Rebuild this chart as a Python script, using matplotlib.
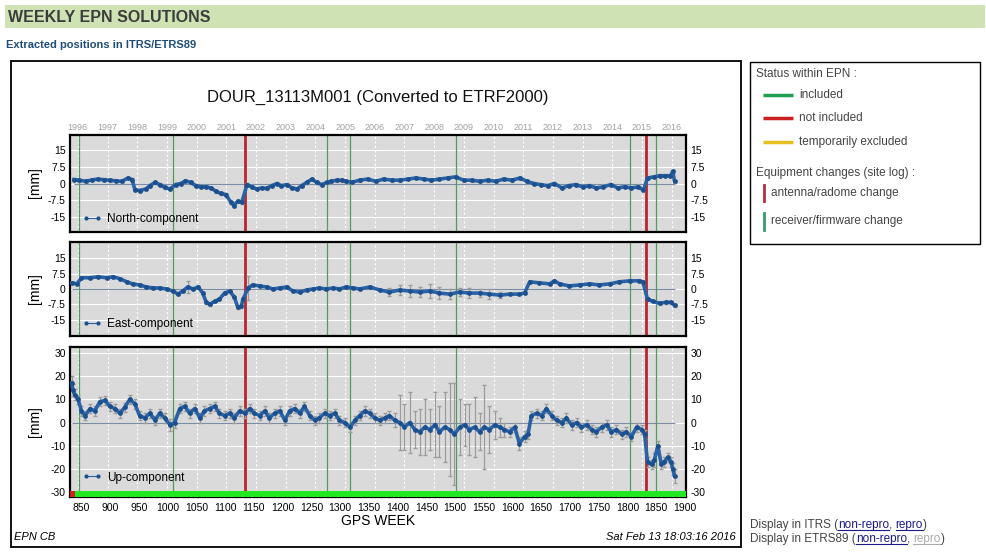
import numpy as np
import matplotlib
matplotlib.use('Agg')
import matplotlib.pyplot as plt
from matplotlib.lines import Line2D
from matplotlib.patches import Rectangle

plt.rcParams['font.family'] = ['Liberation Sans', 'DejaVu Sans']

# --- data (GPS week, mm) ---
north_week = [837, 846, 857, 868, 878, 889, 899, 910, 920, 931,
              938, 943, 951, 962, 969, 978, 986, 995, 1004, 1014,
              1023, 1031, 1040, 1049, 1058, 1066, 1075, 1084, 1092, 1101,
              1110, 1115, 1122, 1129, 1138, 1146, 1155, 1164, 1172, 1181,
              1190, 1198, 1207, 1216, 1225, 1233, 1242, 1251, 1259, 1268,
              1277, 1285, 1294, 1303, 1311, 1320, 1334, 1348, 1362, 1376,
              1390, 1404, 1418, 1432, 1446, 1459, 1473, 1487, 1501, 1515,
              1529, 1543, 1557, 1571, 1585, 1599, 1613, 1625, 1637, 1649,
              1661, 1673, 1686, 1698, 1710, 1722, 1734, 1746, 1758, 1771,
              1783, 1795, 1807, 1819, 1828, 1835, 1846, 1856, 1866, 1875,
              1879, 1882]
north_mm = [1.8, 1.5, 1.0, 1.6, 2.0, 1.7, 1.5, 1.2, 1.0, 2.5,
            1.8, -2.8, -3.2, -2.5, -1.0, 0.5, -0.5, -1.8, -2.5, -0.5,
            0.0, 1.2, 0.5, -1.0, -1.5, -1.5, -2.0, -3.5, -4.5, -5.0,
            -8.5, -10.0, -8.0, -8.5, -0.5, -1.5, -2.5, -2.0, -2.2, -1.0,
            0.0, -1.0, -0.5, -2.0, -2.5, -1.0, 0.5, 2.0, 0.5, -0.5,
            0.5, 1.0, 1.5, 1.5, 1.0, 0.5, 1.5, 2.0, 1.0, 2.0,
            1.5, 1.5, 2.0, 2.5, 2.0, 1.5, 2.0, 2.5, 3.0, 1.5,
            1.5, 1.0, 1.5, 1.0, 2.0, 1.5, 2.5, 1.0, 0.0, -0.5,
            -1.0, 0.0, -2.0, -1.0, -0.5, -1.5, -1.0, -2.0, -1.5, -0.5,
            -2.0, -1.5, -2.0, -1.5, -3.0, 2.5, 3.0, 3.5, 3.5, 3.5,
            5.5, 1.0]

east_week = [833, 842, 850, 865, 879, 894, 905, 917, 929, 939,
             951, 963, 975, 986, 998, 1009, 1018, 1026, 1035, 1044,
             1053, 1061, 1067, 1073, 1082, 1090, 1099, 1108, 1116, 1122,
             1128, 1131, 1140, 1148, 1160, 1172, 1183, 1195, 1207, 1218,
             1230, 1242, 1253, 1264, 1276, 1288, 1299, 1311, 1322, 1334,
             1352, 1369, 1386, 1404, 1421, 1439, 1456, 1473, 1491, 1508,
             1525, 1543, 1560, 1578, 1595, 1612, 1621, 1630, 1647, 1665,
             1673, 1682, 1699, 1717, 1734, 1751, 1769, 1786, 1804, 1821,
             1827, 1835, 1844, 1856, 1867, 1876, 1882]
east_mm = [3.0, 2.5, 5.5, 5.5, 6.0, 5.5, 6.0, 5.0, 3.5, 2.5,
           2.0, 1.0, 0.5, 0.5, 0.0, -1.0, -2.5, -1.0, 1.0, 0.0,
           1.0, -2.0, -6.5, -7.5, -6.0, -5.0, -2.0, -1.0, -4.0, -9.0,
           -8.5, -5.0, 0.5, 2.0, 1.5, 1.0, 0.0, 0.5, 1.0, -1.0,
           -1.5, -0.5, 0.0, 0.5, 0.0, 0.5, 0.0, 1.0, 0.5, 0.0,
           1.0, -0.5, -1.5, -0.5, -1.0, -1.5, -1.0, -2.0, -2.5, -1.5,
           -2.0, -2.0, -2.5, -3.0, -2.5, -2.5, -2.0, 3.5, 3.0, 2.5,
           4.0, 2.5, 1.5, 2.0, 2.5, 2.0, 2.5, 3.5, 4.0, 4.0,
           3.5, -5.0, -6.0, -7.0, -6.5, -6.5, -8.0]
east_err = [0.6, 0.6, 0.6, 0.6, 0.6, 0.6, 0.6, 0.6, 0.6, 0.6,
            0.6, 0.6, 0.6, 0.6, 0.6, 0.6, 0.6, 0.6, 3.0, 0.6,
            0.6, 0.6, 0.6, 0.6, 0.6, 0.6, 0.6, 0.6, 0.6, 0.6,
            0.6, 0.6, 6.0, 0.6, 0.6, 0.6, 0.6, 0.6, 0.6, 0.6,
            0.6, 0.6, 0.6, 0.6, 0.6, 0.6, 0.6, 0.6, 0.6, 0.6,
            0.6, 0.6, 2.0, 2.5, 3.0, 2.5, 3.5, 3.0, 2.5, 2.0,
            2.5, 2.0, 2.5, 1.5, 0.6, 0.6, 0.6, 0.6, 0.6, 0.6,
            0.6, 0.6, 0.6, 0.6, 0.6, 0.6, 0.6, 0.6, 0.6, 0.6,
            0.6, 0.6, 0.6, 0.6, 0.6, 0.6, 0.6]

up_week = [833, 835, 838, 844, 850, 856, 865, 873, 882, 891,
           899, 908, 917, 925, 934, 943, 951, 960, 969, 978,
           986, 995, 1004, 1012, 1021, 1030, 1038, 1047, 1056, 1064,
           1073, 1082, 1090, 1099, 1108, 1116, 1125, 1134, 1143, 1151,
           1160, 1169, 1177, 1186, 1195, 1204, 1212, 1221, 1230, 1238,
           1247, 1256, 1264, 1273, 1282, 1291, 1299, 1308, 1317, 1326,
           1334, 1343, 1352, 1360, 1369, 1378, 1386, 1395, 1404, 1412,
           1421, 1430, 1439, 1447, 1456, 1465, 1473, 1482, 1491, 1499,
           1508, 1517, 1525, 1534, 1543, 1551, 1560, 1569, 1578, 1586,
           1595, 1604, 1612, 1621, 1627, 1633, 1642, 1651, 1659, 1668,
           1677, 1686, 1694, 1703, 1712, 1720, 1729, 1738, 1746, 1755,
           1764, 1772, 1781, 1790, 1798, 1807, 1816, 1825, 1830, 1835,
           1842, 1847, 1853, 1859, 1864, 1870, 1876, 1879, 1882]
up_mm = [17, 14, 12, 10, 5, 3, 6, 5, 9, 9.5,
         7, 6, 4, 6.5, 10, 8, 3, 2, 4, 1,
         4, 2, -1, 0, 6, 7, 4, 6, 2, 5,
         6, 7, 4, 3, 4, 2, 5, 4, 6, 4,
         3, 5, 2, 4, 5, 1, 5, 6, 4, 7,
         3, 1, 2, 4, 3, 4, 1, 0, -2, 1,
         3, 5, 4, 2, 1, 2, 3, 1, 0, -2,
         0, -3, -4, -2, -3, -1, -4, -2, -3, -5,
         -2, -1, -3, -2, -4, -2, -3, -1, -2, -3,
         -4, -2, -9, -6, -5, 3, 4, 3, 6, 3,
         1, 0, 2, -1, 0, -2, -1, -3, -4, -2,
         -1, -4, -3, -5, -4, -6, -2, -3, -5, -17,
         -18, -16, -10, -18, -17, -15, -17, -20, -23]
up_err = [3, 2.5, 2.5, 2, 2, 2, 2, 2, 2, 2,
          2, 2, 2, 2, 2, 2, 2, 2, 2, 2,
          2, 2, 2.5, 2.5, 2, 2, 2, 2, 2, 2,
          2, 2, 2, 2, 2, 2, 2, 2, 2, 2,
          2, 2, 2, 2, 2, 2, 2, 2, 2, 2,
          2, 2, 2, 2, 2, 2, 2, 2, 2, 2,
          2, 2, 2, 2, 2, 2, 2, 3, 12, 10,
          13, 8, 10, 12, 9, 14, 11, 15, 20, 22,
          12, 9, 11, 13, 8, 18, 10, 6, 4, 3,
          2, 2, 3, 2.5, 2, 2, 2, 2, 2, 2,
          2, 2, 2, 2, 2, 2, 2, 2, 2, 2,
          2, 2, 2, 2, 2, 2, 2, 2, 2, 2,
          2, 3, 2, 2, 2, 2, 2, 2.5, 3]

antenna_weeks = [1134, 1832]
receiver_weeks = [845, 1009, 1277, 1317, 1501, 1804, 1849]
status_spans = [(830, 838, '#d02020'), (838, 1902, '#22e822')]

years = list(range(1996, 2017))
year_weeks = np.linspace(843.6, 1877.2, len(years))

nev_ticks = [15, 7.5, 0, -7.5, -15]
nev_labels = ['15', '7.5', '0', '-7.5', '-15']
up_ticks = [30, 20, 10, 0, -10, -20, -30]
up_labels = ['30', '20', '10', '0', '-10', '-20', '-30']
week_ticks = list(range(850, 1901, 50))

W, H = 987, 552
fig = plt.figure(figsize=(W / 100, H / 100), dpi=100)

# overlay in pixel coordinates for page-level stuff
ov = fig.add_axes([0, 0, 1, 1])
ov.set_xlim(0, W)
ov.set_ylim(H, 0)
ov.axis('off')
ov.set_zorder(-1)


def box(x0, y0, x1, y1):
    return [x0 / W, 1 - y1 / H, (x1 - x0) / W, (y1 - y0) / H]


BLUE = '#2a63a5'
DOT = '#1b4f8e'


def panel(ax, weeks, vals, err, ylim, ticks, labels, name, ly):
    ax.set_facecolor('#dadada')
    ax.set_xlim(830, 1902)
    ax.set_ylim(*ylim)
    for w in year_weeks:
        ax.axvline(w, color='white', lw=0.8, ls=(0, (2, 2)), zorder=0.5)
    for t in ticks:
        ax.axhline(t, color='white', lw=0.8, zorder=0.5)
    ax.hlines(0, weeks[0], weeks[-1], color='#7c8ea6', lw=0.8, zorder=1)
    for w in receiver_weeks:
        ax.axvline(w, color='#4f9c5c', lw=0.9, zorder=1.5)
    for w in antenna_weeks:
        ax.axvline(w, color='#b8272d', lw=2, zorder=1.5)
    ax.errorbar(weeks, vals, yerr=err, fmt='none', ecolor='#9c9c9c',
                elinewidth=0.9, capsize=1.5, zorder=2)
    ax.plot(weeks, vals, color=BLUE, lw=2.6, marker='o', ms=2.4,
            mfc=DOT, mec=DOT, zorder=3)
    ax.set_yticks(ticks)
    ax.set_yticklabels(labels)
    ax.tick_params(axis='y', length=0, labelsize=7.5, labelright=True, pad=3)
    ax.tick_params(axis='x', length=0)
    ax.set_xticks(week_ticks)
    ax.set_xticklabels([])
    for s in ax.spines.values():
        s.set_linewidth(1.6)
    h = Line2D([], [], color=BLUE, lw=0.8, marker='o', ms=2, mfc=DOT, mec=DOT)
    ax.legend([h], [name], loc='center left', bbox_to_anchor=(0.02, ly),
              frameon=False, numpoints=2, handlelength=1.6, fontsize=8.5,
              borderpad=0, borderaxespad=0, handletextpad=0.5)


ax1 = fig.add_axes(box(70, 135, 686, 232))
ax2 = fig.add_axes(box(70, 242, 686, 336))
ax3 = fig.add_axes(box(70, 347, 686, 497))

panel(ax1, north_week, north_mm, 0.6, (-22, 22), nev_ticks, nev_labels, 'North-component', 0.13)
panel(ax2, east_week, east_mm, east_err, (-23, 23), nev_ticks, nev_labels, 'East-component', 0.13)
panel(ax3, up_week, up_mm, up_err, (-32, 32.5), up_ticks, up_labels, 'Up-component', 0.13)

for a, b, c in status_spans:
    ax3.fill_between([a, b], -32, -29.6, color=c, lw=0, zorder=4)

ax3.set_xticklabels([str(w) for w in week_ticks])
ax3.tick_params(axis='x', labelsize=7.5, pad=4)

sec = ax1.secondary_xaxis('top')
sec.set_xticks(year_weeks)
sec.set_xticklabels([str(y) for y in years])
sec.tick_params(length=0, labelsize=6.5, labelcolor='#a0a0a0', pad=2)
sec.spines['top'].set_visible(False)

# page furniture
ov.add_patch(Rectangle((5, 5), 980, 23, color='#cfe2b4', lw=0))
ov.text(8, 17, 'WEEKLY EPN SOLUTIONS', fontsize=11.5, fontweight='bold',
        color='#3c3c3c', va='center')
ov.text(6, 45, 'Extracted positions in ITRS/ETRS89', fontsize=8,
        fontweight='bold', color='#1f4d7a', va='center')
ov.add_patch(Rectangle((11, 61), 730, 486, fill=False, ec='black', lw=1.3))
ov.text(378, 97, 'DOUR_13113M001 (Converted to ETRF2000)', fontsize=12,
        ha='center', va='center', color='#111111')
for y in (183, 289, 422):
    ov.text(35, y, '[mm]', fontsize=10, rotation=90, ha='center', va='center')
ov.text(378, 521, 'GPS WEEK', fontsize=10, ha='center', va='center')
ov.text(14, 537, 'EPN CB', fontsize=8, style='italic', va='center')
ov.text(736, 537, 'Sat Feb 13 18:03:16 2016', fontsize=8, style='italic',
        ha='right', va='center')

# status legend box
ov.add_patch(Rectangle((750, 62), 230, 182, fill=False, ec='black', lw=1))
TXT = '#444444'
FS = 8.5
ov.text(756, 74, 'Status within EPN :', fontsize=FS, color=TXT, va='center')
status_items = [('included', '#1fa050', 95), ('not included', '#cc2020', 118),
                ('temporarily excluded', '#e6c020', 142)]
for lab, col, y in status_items:
    ov.plot([763, 793], [y, y], color=col, lw=2.5, solid_capstyle='butt')
    ov.text(799, y, lab, fontsize=FS, color=TXT, va='center')
ov.text(756, 173, 'Equipment changes (site log) :', fontsize=FS, color=TXT, va='center')
ov.plot([764, 764], [185, 201], color='#b03040', lw=2)
ov.text(771, 193, 'antenna/radome change', fontsize=FS, color=TXT, va='center')
ov.plot([764, 764], [213, 230], color='#3a9a6a', lw=2)
ov.text(771, 221, 'receiver/firmware change', fontsize=FS, color=TXT, va='center')

# display links
LINK = '#1a1a8a'
lines = [
    (525, [('Display in ITRS (', TXT, False), ('non-repro', LINK, True), (', ', TXT, False),
           ('repro', LINK, True), (')', TXT, False)]),
    (539, [('Display in ETRS89 (', TXT, False), ('non-repro', LINK, True), (', ', TXT, False),
           ('repro', '#aaaaaa', True), (')', TXT, False)]),
]
underlined = []
for y, pieces in lines:
    prev = ov.text(750, y, pieces[0][0], fontsize=FS, color=pieces[0][1], va='center')
    for s, c, u in pieces[1:]:
        prev = ov.annotate(s, xy=(1, 0.5), xycoords=prev, fontsize=FS, color=c,
                           va='center', ha='left')
        if u:
            underlined.append((prev, c, y))

fig.canvas.draw()
r = fig.canvas.get_renderer()
for t, c, y in underlined:
    bb = t.get_window_extent(r)
    ov.plot([bb.x0, bb.x1], [y + 5, y + 5], color=c, lw=0.8)

fig.savefig('out.png', dpi=100)
